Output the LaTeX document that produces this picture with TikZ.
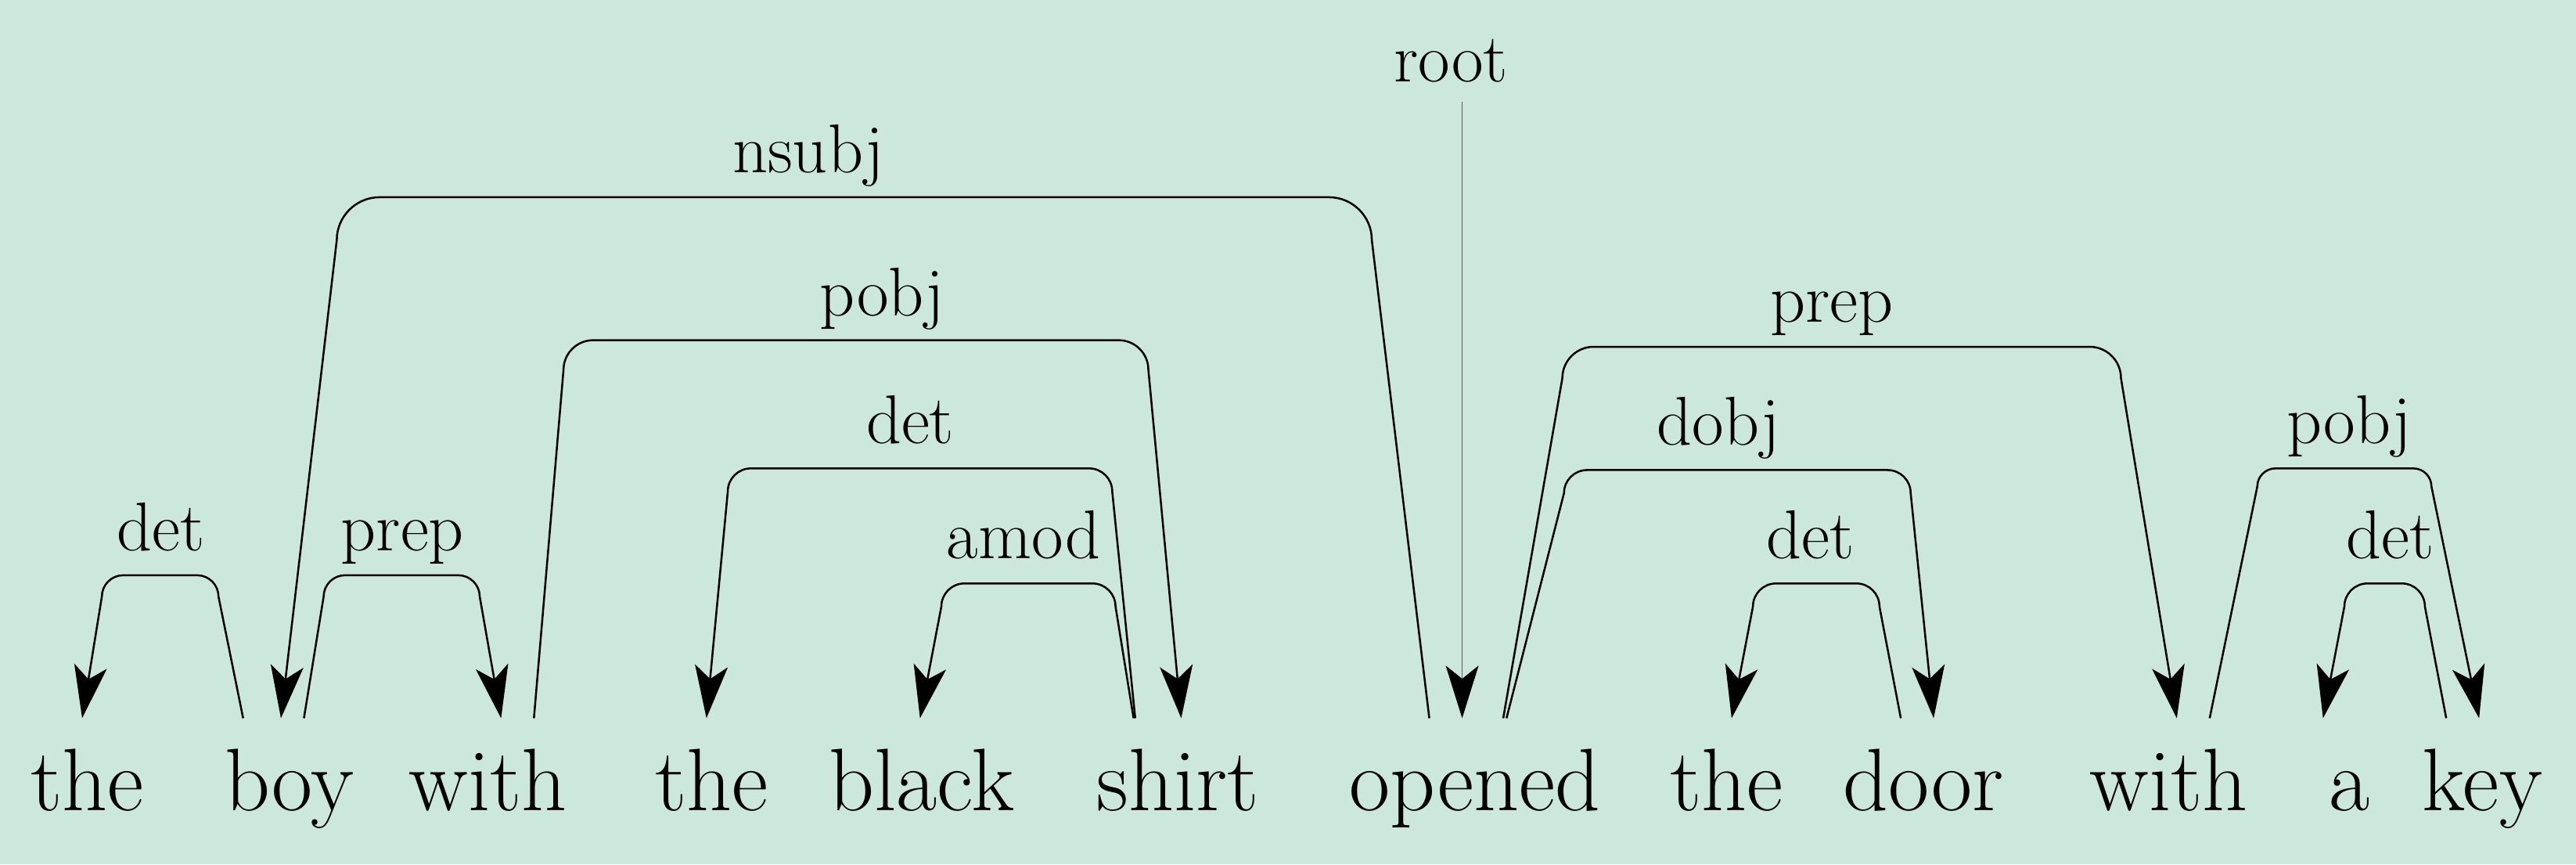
\documentclass[tikz,border=0pt]{standalone}
\usetikzlibrary{positioning,calc,arrows.meta}
\definecolor{mint}{RGB}{204,232,221}
\tikzset{%
	word/.style={
		anchor=base,
		inner sep=0pt,
		font=\fontsize{27}{30}\selectfont
	},
	deplabel/.style={
		anchor=base,
		inner sep=0pt,
		font=\fontsize{21}{24}\selectfont
	},
	deparc/.style={
		draw,
		line width=0.6pt,
		-{Stealth[length=16pt,width=10pt,inset=4pt,color=black]}
	},
	deparc-root/.style={ deparc, line width=0.35pt, draw=black!65 },
}

\begin{document}
\begin{tikzpicture}[x=0.5pt, y=-0.5pt]
% background
\fill[mint] (0,0) rectangle (1568,526);
\useasboundingbox (0,0) rectangle (1568,526);

% words
\foreach \w/\x [count=\i] in {the/53,boy/176,with/297,the/433,black/561,shirt/717,opened/898,the/1051,door/1171,with/1320,a/1430,key/1511}
	\node[word] (w-\i) at (\x,493) {\w};

% arcs: head word, dependent word, top corners, height, label
\foreach \hw/\hdx/\dw/\ddx/\xh/\xd/\ytop/\rad/\lx/\lab in {
	2/-28/1/-3/133/62/350/13/98/det,
	2/9/3/8/197/292/350/13/245/prep,
	7/-28/2/-5/835/205/120/26/492/nsubj,
	3/28/6/2/343/699/207/18/537/pobj,
	6/-26/4/-3/677/443/285/14/554/det,
	6/-27/5/-1/679/573/355/14/623/amod,
	7/17/10/5/951/1291/211/19/1115/prep,
	7/19/9/6/952/1163/286/14/1046/dobj,
	9/-14/8/3/1144/1067/355/14/1102/det,
	10/25/12/-2/1374/1480/285/11/1430/pobj,
	12/-22/11/-16/1476/1427/355/14/1455/det}
{
	\pgfmathsetmacro\sg{\xd>\xh ? \rad : -\rad}
	\pgfmathsetmacro\xha{\xh+\sg}
	\pgfmathsetmacro\xhc{\xh+0.45*\sg}
	\pgfmathsetmacro\xdb{\xd-\sg}
	\pgfmathsetmacro\xdc{\xd-0.45*\sg}
	\pgfmathsetmacro\yc{\ytop+\rad}
	\pgfmathsetmacro\ycc{\ytop+0.45*\rad}
	\draw[deparc] ($(w-\hw.base)+(\hdx,-56)$) -- (\xh,\yc) .. controls (\xh,\ycc) and (\xhc,\ytop) .. (\xha,\ytop)
		-- (\xdb,\ytop) .. controls (\xdc,\ytop) and (\xd,\ycc) .. (\xd,\yc) -- ($(w-\dw.base)+(\ddx,-56)$);
	\node[deplabel] (lab-\hw-\dw) at (\lx,\ytop-15) {\lab};
}

% root
\node[deplabel] (lab-root) at (883,50) {root};
\coordinate (root-top) at (890,62);
\draw[deparc-root] (root-top) -- ($(w-7.base)+(-8,-56)$);

\end{tikzpicture}
\end{document}
